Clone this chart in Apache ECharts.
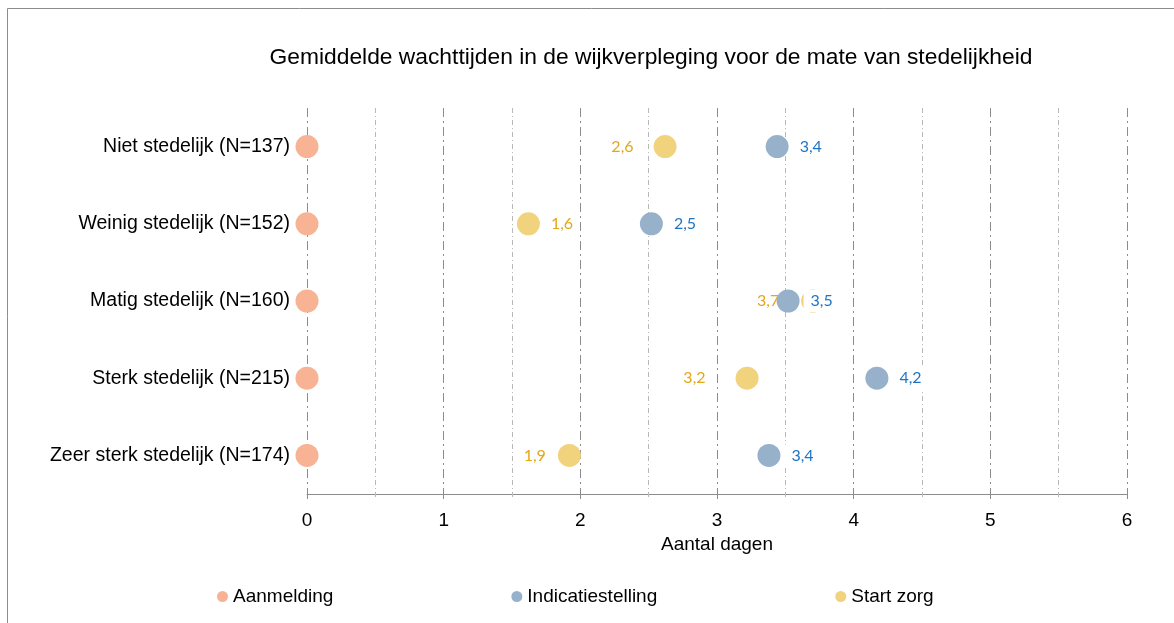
<!DOCTYPE html>
<html>
<head>
<meta charset="utf-8">
<script src="https://cdn.jsdelivr.net/npm/echarts@6/dist/echarts.min.js"></script>
<style>
  html, body { margin: 0; padding: 0; background: #fff; }
  #chart { width: 1174px; height: 623px; }
</style>
</head>
<body>
<div id="chart"></div>
<script>
// categorieën (van boven naar beneden)
var categories = [
  'Niet stedelijk (N=137)',
  'Weinig stedelijk (N=152)',
  'Matig stedelijk (N=160)',
  'Sterk stedelijk (N=215)',
  'Zeer sterk stedelijk (N=174)'
];
var aanmelding = [0, 0, 0, 0, 0];
var indicatie = [3.44, 2.52, 3.52, 4.17, 3.38];
var startZorg = [2.62, 1.62, 3.7, 3.22, 1.92];
var xTicks = [0, 1, 2, 3, 4, 5, 6];

// label kant voor start zorg
var startSide = ['left', 'right', 'left', 'left', 'left'];
var startGap = [20, 11, 22, 30, 12];

function fmt(v) {
  return v.toFixed(1).replace('.', ',');
}

function points(values) {
  return values.map(function (v, i) { return [v, categories[i]]; });
}

var chart = echarts.init(document.getElementById('chart'));

var option = {
  animation: false,
  title: {
    text: 'Gemiddelde wachttijden in de wijkverpleging voor de mate van stedelijkheid',
    left: 646,
    top: 41,
    textAlign: 'center',
    textStyle: {
      fontFamily: 'Liberation Sans',
      fontSize: 22.8,
      fontWeight: 'normal',
      color: '#000'
    }
  },
  graphic: [{
    type: 'rect',
    shape: { x: 7.5, y: 8.5, width: 1200, height: 700 },
    style: { fill: 'none', stroke: '#8c8c8c', lineWidth: 1 },
    silent: true,
    z: -10
  }],
  legend: {
    bottom: 12,
    left: 212,
    itemGap: 178,
    itemWidth: 11,
    itemHeight: 11,
    icon: 'circle',
    data: ['Aanmelding', 'Indicatiestelling', 'Start zorg'],
    textStyle: {
      fontFamily: 'Liberation Sans',
      fontSize: 19,
      color: '#000'
    }
  },
  grid: {
    left: 307,
    right: 47,
    top: 108,
    bottom: 129
  },
  xAxis: {
    type: 'value',
    min: xTicks[0],
    max: xTicks[xTicks.length - 1],
    interval: 1,
    name: 'Aantal dagen',
    nameLocation: 'middle',
    nameGap: 37,
    nameTextStyle: { fontFamily: 'Liberation Sans', fontSize: 19, color: '#000' },
    axisLine: { show: true, lineStyle: { color: '#8c8c8c' } },
    axisTick: { show: true, length: 5, lineStyle: { color: '#8c8c8c' } },
    minorTick: { show: true, splitNumber: 2, length: 3, lineStyle: { color: '#bbb' } },
    axisLabel: {
      margin: 17,
      fontFamily: 'Liberation Sans',
      fontSize: 19,
      color: '#000'
    },
    splitLine: {
      show: true,
      lineStyle: { color: '#8c8c8c', width: 1, type: [9, 4, 2, 4] }
    },
    minorSplitLine: {
      show: true,
      lineStyle: { color: '#b8b8b8', width: 1, type: [5, 3, 1, 3] }
    }
  },
  yAxis: {
    type: 'category',
    data: categories,
    inverse: true,
    axisLine: { show: false },
    axisTick: { show: false },
    splitLine: { show: false },
    axisLabel: {
      margin: 17,
      fontFamily: 'Liberation Sans',
      fontSize: 19.5,
      color: '#000'
    }
  },
  series: [
    {
      name: 'Aanmelding',
      type: 'scatter',
      symbolSize: 23,
      itemStyle: { color: '#F7B394', opacity: 1 },
      data: points(aanmelding),
      z: 3
    },
    {
      name: 'Start zorg',
      type: 'scatter',
      symbolSize: 23,
      itemStyle: { color: '#F1D37D', opacity: 1 },
      data: startZorg.map(function (v, i) {
        return {
          value: [v, categories[i]],
          label: { position: startSide[i], distance: startGap[i] }
        };
      }),
      label: {
        show: true,
        formatter: function (p) { return fmt(p.value[0]); },
        fontFamily: 'Lato',
        fontSize: 16,
        color: '#E2A71A'
      },
      z: 4
    },
    {
      name: 'Indicatiestelling',
      type: 'scatter',
      symbolSize: 23,
      itemStyle: { color: '#98B1CA', opacity: 1 },
      data: points(indicatie),
      label: {
        show: true,
        position: 'right',
        distance: 4,
        formatter: function (p) { return fmt(p.value[0]); },
        fontFamily: 'Lato',
        fontSize: 16,
        color: '#1F74C4',
        backgroundColor: '#fff',
        padding: [3, 3, 3, 7]
      },
      z: 5
    }
  ]
};

chart.setOption(option);
</script>
</body>
</html>
